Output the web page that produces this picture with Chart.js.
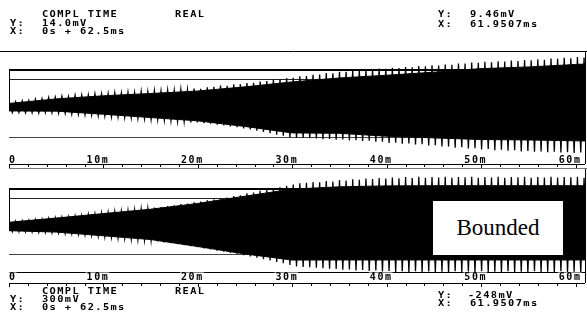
<!DOCTYPE html>
<html><head><meta charset="utf-8">
<script src="https://cdn.jsdelivr.net/npm/chart.js@4"></script>
<style>
html,body{margin:0;padding:0;background:#fff;}
#wrap{position:relative;width:587px;height:324px;overflow:hidden;background:#fff;}
canvas{position:absolute;left:0;top:0;}
.t{position:absolute;font:bold 9px "DejaVu Sans Mono",monospace;letter-spacing:1.2px;line-height:9px;white-space:pre;color:#000;transform:scaleX(1.15);transform-origin:0 0;}
#bounded{position:absolute;left:433px;top:201px;width:130px;height:54px;background:#fff;font:23px "Liberation Serif","Times New Roman",serif;display:flex;align-items:center;justify-content:center;color:#000;}
</style></head>
<body><div id="wrap">
<canvas id="c1" width="587" height="324"></canvas>
<canvas id="c2" width="587" height="324"></canvas>
<div class="t" style="left:42px;top:9.5px">COMPL TIME</div>
<div class="t" style="left:175px;top:9.5px">REAL</div>
<div class="t" style="left:10px;top:18.5px">Y:</div>
<div class="t" style="left:42px;top:18.5px">14.0mV</div>
<div class="t" style="left:10px;top:27px">X:</div>
<div class="t" style="left:42px;top:27px">0s + 62.5ms</div>
<div class="t" style="left:438px;top:10px">Y:</div>
<div class="t" style="left:470px;top:10px">9.46mV</div>
<div class="t" style="left:438px;top:20px">X:</div>
<div class="t" style="left:470px;top:20px">61.9507ms</div>
<div class="t" style="left:42px;top:286.5px">COMPL TIME</div>
<div class="t" style="left:175px;top:286.5px">REAL</div>
<div class="t" style="left:10px;top:294.5px">Y:</div>
<div class="t" style="left:42px;top:294.5px">300mV</div>
<div class="t" style="left:10px;top:302.5px">X:</div>
<div class="t" style="left:42px;top:302.5px">0s + 62.5ms</div>
<div class="t" style="left:438px;top:291px">Y:</div>
<div class="t" style="left:468px;top:291px">-248mV</div>
<div class="t" style="left:438px;top:299px">X:</div>
<div class="t" style="left:470px;top:299px">61.9507ms</div>
<div id="bounded">Bounded</div>
</div>
<script>
// ---- data ----
const CYCLE_MS = 0.7;       // spacing of the oscillation peaks (ms)
const X_MAX = 61;           // visible time span (ms)
const tickValues = [0, 10, 20, 30, 40, 50, 60];
const tickLabels = ["0", "10m", "20m", "30m", "40m", "50m", "60m"];

// upper panel (mV)
const topPeaks = [2.9,3.0,3.4,3.6,4.2,4.4,5.0,5.2,5.6,5.5,6.1,6.2,6.3,6.9,6.8,7.0,7.4,7.2,7.6,7.5,
  8.0,7.9,8.3,8.2,8.6,8.5,9.0,8.9,9.4,9.3,10.0,10.2,10.8,10.7,11.4,11.5,12.1,12.2,12.8,13.0,
  13.6,13.8,14.5,14.6,15.3,15.4,16.0,16.1,16.9,16.8,17.5,17.5,18.0,17.9,18.5,18.4,19.0,18.9,19.4,19.3,
  19.8,19.7,20.2,20.1,20.6,20.5,21.0,20.9,21.5,21.4,22.0,21.8,22.3,22.1,22.6,22.4,22.9,22.7,23.2,23.0,
  23.5,23.3,23.9,23.7,24.2,24.0,24.6,24.4];
const topTroughs = [-2.2,-2.1,-2.3,-2.2,-2.4,-2.2,-2.3,-2.5,-2.6,-2.9,-3.0,-3.3,-3.4,-3.7,-3.9,-4.2,-4.3,-4.6,-4.7,-5.0,
  -5.1,-5.5,-5.6,-5.9,-6.0,-6.4,-6.5,-6.9,-7.0,-7.3,-7.6,-8.0,-8.4,-8.9,-9.2,-9.8,-10.3,-10.9,-11.6,-12.1,
  -12.9,-13.4,-14.2,-14.5,-14.4,-14.6,-14.7,-15.0,-14.9,-15.3,-15.2,-15.6,-15.5,-15.9,-15.8,-16.3,-16.2,-16.8,-16.7,-17.2,
  -17.1,-17.6,-17.5,-18.1,-18.0,-18.6,-18.6,-19.1,-18.9,-19.5,-19.4,-20.0,-19.8,-20.3,-20.1,-20.6,-20.4,-20.9,-20.7,-21.1,
  -20.9,-21.3,-21.1,-21.5,-21.3,-21.7,-21.5,-21.8];
const coreTimes = [0, 5, 10, 15, 20, 25, 30, 35, 40, 45, 50, 55, 60, 61];
const topCoreUpper = [2.2, 4.4, 5.9, 7.0, 8.2, 10.2, 12.6, 14.5, 15.8, 17.3, 19.0, 19.8, 21.0, 21.2];
const topCoreLower = [-1.4, -1.5, -3.0, -4.6, -6.2, -8.9, -12.0, -12.2, -13.6, -14.4, -15.2, -15.4, -15.8, -15.9];

// lower panel (mV)
const botPeaks = [46,52,57,63,70,74,82,87,95,99,107,112,122,127,138,143,153,157,166,170,
  181,186,197,204,215,222,234,240,254,262,276,283,299,305,322,330,350,360,378,388,
  404,415,432,445,458,462,472,470,482,478,492,488,500,496,508,503,514,508,520,512,
  525,515,527,518,526,520,528,517,525,521,529,516,526,520,528,518,525,522,529,517,
  526,520,528,519,525,522,529,518];
const botTroughs = [-61,-62,-64,-65,-67,-69,-72,-75,-80,-84,-90,-95,-101,-107,-116,-121,-128,-133,-140,-145,
  -152,-157,-166,-175,-185,-196,-207,-217,-228,-240,-252,-264,-276,-288,-300,-313,-326,-340,-355,-370,
  -386,-400,-418,-434,-438,-442,-448,-452,-458,-462,-470,-466,-476,-472,-482,-478,-488,-481,-492,-484,
  -494,-486,-495,-487,-493,-489,-496,-485,-494,-488,-497,-486,-493,-490,-496,-485,-494,-489,-497,-486,
  -493,-490,-496,-485,-494,-489,-497,-487];
const botCoreUpper = [40, 85, 133, 180, 242, 320, 395, 420, 430, 432, 432, 432, 432, 432];
const botCoreLower = [-50, -65, -105, -145, -220, -300, -365, -364, -364, -364, -364, -364, -364, -364];

// ---- build ----
function zigzag(peaks, troughs){
  const pts = [];
  for (let i = 0; i < peaks.length; i++){
    pts.push({x: i*CYCLE_MS, y: peaks[i]});
    pts.push({x: i*CYCLE_MS + CYCLE_MS/2, y: troughs[i]});
  }
  return pts;
}
function pairs(ts, vs){ return ts.map((t,i)=>({x:t, y:vs[i]})); }

function hline(ctx, x0, x1, y, w, c){
  ctx.save(); ctx.strokeStyle=c; ctx.lineWidth=w; ctx.beginPath();
  const yy = Math.round(y) + (w%2 ? 0.5 : 0);
  ctx.moveTo(x0, yy); ctx.lineTo(x1, yy); ctx.stroke(); ctx.restore();
}
function vline(ctx, x, y0, y1, w, c){
  ctx.save(); ctx.strokeStyle=c; ctx.lineWidth=w; ctx.beginPath();
  const xx = Math.round(x) + (w%2 ? 0.5 : 0);
  ctx.moveTo(xx, y0); ctx.lineTo(xx, y1); ctx.stroke(); ctx.restore();
}

function framePlugin(cfg){
  return {
    id: 'frame',
    beforeDatasetsDraw(chart){
      const ctx = chart.ctx, ys = chart.scales.y, a = chart.chartArea;
      const L = a.left, R = a.right;
      if (cfg.fullTop !== undefined) hline(ctx, 0, 587, ys.getPixelForValue(cfg.fullTop), 1, '#000');
      hline(ctx, L, R, ys.getPixelForValue(cfg.boxTop), 2, '#000');
      hline(ctx, L, R, ys.getPixelForValue(cfg.inner), 1, '#222');
      hline(ctx, L, R, ys.getPixelForValue(cfg.lower), 1, '#444');
      vline(ctx, L, ys.getPixelForValue(cfg.boxTop), ys.getPixelForValue(0), 1, '#000');
      if (cfg.overline !== undefined) hline(ctx, L, R, ys.getPixelForValue(cfg.overline), 1, '#000');
      vline(ctx, R, a.top, a.bottom, 1, '#000');
    },
    afterDatasetsDraw(chart){
      const ctx = chart.ctx, xs = chart.scales.x, a = chart.chartArea;
      const axisY = a.bottom;
      hline(ctx, a.left, a.right, axisY, 1, '#000');
      if (cfg.secondLine) hline(ctx, a.left, 587, axisY + 4, 1, '#777');
      ctx.save(); ctx.strokeStyle = '#000'; ctx.lineWidth = 1;
      for (let t = 0; t <= 60; t += 2){
        const px = Math.round(xs.getPixelForValue(t)) + 0.5;
        ctx.beginPath(); ctx.moveTo(px, axisY); ctx.lineTo(px, axisY + (t % 10 === 0 ? 4 : 3)); ctx.stroke();
      }
      ctx.restore();
      ctx.save();
      ctx.font = 'bold 10px "DejaVu Sans Mono", monospace';
      try { ctx.letterSpacing = '1.6px'; } catch(e){}
      ctx.textBaseline = 'alphabetic';
      tickValues.forEach((v, i) => {
        const lab = tickLabels[i];
        const px = xs.getPixelForValue(v);
        const w = ctx.measureText(lab).width;
        const x0 = (v === 0) ? a.left : px + 6 - w;
        if (cfg.labelBg){
          ctx.fillStyle = '#fff';
          ctx.fillRect(x0 - 1, cfg.labelBase - 7, w + 1, 9);
        }
        ctx.fillStyle = '#000';
        ctx.textAlign = 'left';
        ctx.fillText(lab, x0, cfg.labelBase);
      });
      ctx.restore();
    }
  };
}

function makeChart(id, peaks, troughs, coreU, coreL, yMin, yMax, pad, frameCfg){
  return new Chart(document.getElementById(id), {
    type: 'line',
    data: { datasets: [
      { data: pairs(coreTimes, coreU), fill: '+1', backgroundColor: '#000', borderColor: '#000', borderWidth: 1, pointRadius: 0 },
      { data: pairs(coreTimes, coreL), fill: false, borderColor: '#000', borderWidth: 1, pointRadius: 0 },
      { data: zigzag(peaks, troughs), fill: false, borderColor: '#000', borderWidth: 1.3, pointRadius: 0 }
    ]},
    options: {
      responsive: false, animation: false, devicePixelRatio: 1,
      layout: { padding: pad },
      elements: { line: { tension: 0 } },
      plugins: { legend: { display: false }, tooltip: { enabled: false } },
      scales: {
        x: { type: 'linear', min: 0, max: X_MAX, display: false },
        y: { type: 'linear', min: yMin, max: yMax, display: false }
      }
    },
    plugins: [framePlugin(frameCfg)]
  });
}

makeChart('c1', topPeaks, topTroughs, topCoreUpper, topCoreLower, -27, 27.5,
  { left: 9, right: 2, top: 51, bottom: 160 },
  { fullTop: 27.5, boxTop: 18.3, inner: 14, lower: -14, secondLine: true, labelBase: 163, labelBg: false });

makeChart('c2', botPeaks, botTroughs, botCoreUpper, botCoreLower, -611, 611,
  { left: 9, right: 2, top: 169, bottom: 41 },
  { boxTop: 396, inner: 300, lower: -300, overline: -493, secondLine: false, labelBase: 279.5, labelBg: true });
</script>
</body></html>
